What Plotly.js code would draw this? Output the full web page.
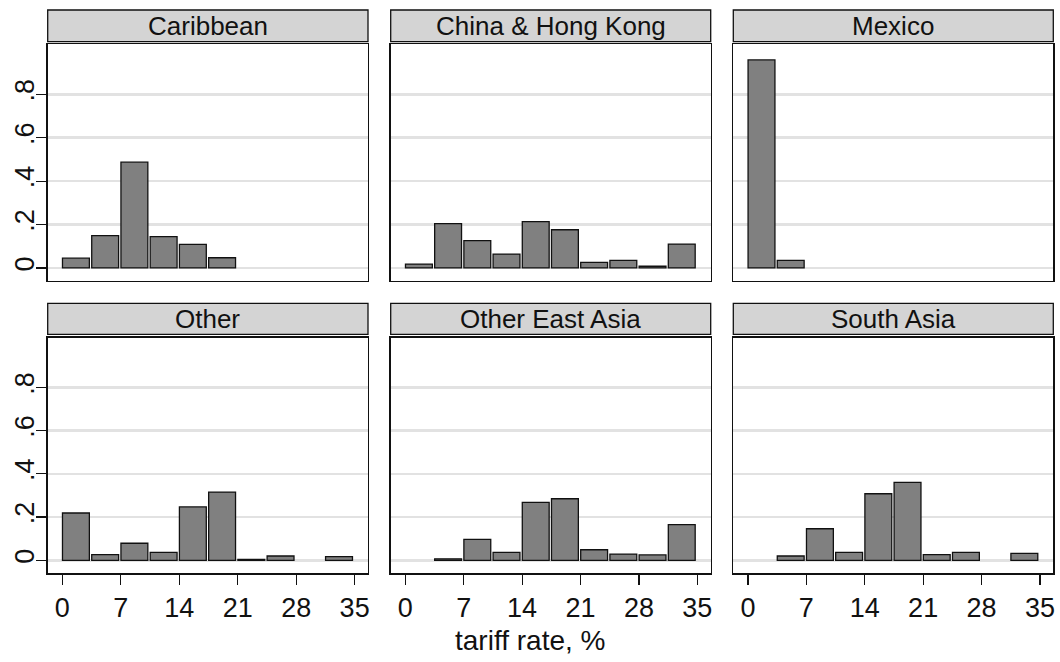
<!DOCTYPE html>
<html>
<head>
<meta charset="utf-8">
<script src="https://cdn.plot.ly/plotly-3.0.1.min.js"></script>
<style>html,body{margin:0;padding:0;background:#fff;}#chart{width:1060px;height:662px;}</style>
</head>
<body>
<div id="chart"></div>
<script>
// ---- data ----
const regions = ["Caribbean", "China & Hong Kong", "Mexico", "Other", "Other East Asia", "South Asia"];
const binLeft = [0, 3.5, 7, 10.5, 14, 17.5, 21, 24.5, 28, 31.5];
const caribbean     = [0.045, 0.149, 0.487, 0.144, 0.109, 0.047, 0, 0, 0, 0];
const chinaHongKong = [0.018, 0.204, 0.126, 0.064, 0.213, 0.176, 0.026, 0.035, 0.008, 0.110];
const mexico        = [0.958, 0.035, 0, 0, 0, 0, 0, 0, 0, 0];
const other         = [0.219, 0.026, 0.079, 0.037, 0.247, 0.316, 0.004, 0.020, 0, 0.017];
const otherEastAsia = [0, 0.007, 0.097, 0.037, 0.268, 0.285, 0.049, 0.029, 0.025, 0.165];
const southAsia     = [0, 0.020, 0.146, 0.037, 0.308, 0.361, 0.026, 0.037, 0, 0.032];
const xTickVals = [0, 7, 14, 21, 28, 35];
const xTickText = ["0", "7", "14", "21", "28", "35"];
const yTickVals = [0, 0.2, 0.4, 0.6, 0.8];
const yTickText = ["0", ".2", ".4", ".6", ".8"];
const xTitle = "tariff rate, %";

const series = [caribbean, chinaHongKong, mexico, other, otherEastAsia, southAsia];

// ---- layout geometry (pixels) ----
const W = 1060, H = 662;
const colPx = [[47.7, 368], [390.7, 710.7], [733.3, 1053.3]];
const rowPx = [[44.3, 281], [337.7, 573.3]];      // plot boxes (top, bottom)
const headPx = [[10, 41.7], [303.3, 334.3]];       // header strips
const FONT = "Liberation Sans, Arial, sans-serif";

const px2x = p => p / W;
const px2y = p => 1 - p / H;

const data = [];
const layout = {
  width: W, height: H,
  margin: {l: 0, r: 0, t: 0, b: 0},
  paper_bgcolor: "#fff", plot_bgcolor: "#fff",
  showlegend: false,
  bargap: 0,
  shapes: [], annotations: []
};

series.forEach((vals, i) => {
  const r = Math.floor(i / 3), c = i % 3;
  const n = i + 1;
  const xa = n === 1 ? "x" : "x" + n, ya = n === 1 ? "y" : "y" + n;
  data.push({
    type: "bar",
    x: binLeft, y: vals.map(v => (v === 0 ? null : v)),  // empty bins are not drawn
    offset: 0.02, width: 3.22,
    xaxis: xa, yaxis: ya,
    marker: {color: "#808080", line: {color: "#111", width: 1.3}},
    hoverinfo: "x+y"
  });
  const xk = n === 1 ? "xaxis" : "xaxis" + n, yk = n === 1 ? "yaxis" : "yaxis" + n;
  layout[xk] = {
    domain: [px2x(colPx[c][0]), px2x(colPx[c][1])],
    anchor: ya,
    range: [-1.75, 36.6],
    showline: true, mirror: true, linecolor: "#111", linewidth: 1.3,
    showgrid: false, zeroline: false,
    tickmode: "array", tickvals: xTickVals, ticktext: xTickText,
    ticks: r === 1 ? "outside" : "", ticklen: 10, tickwidth: 1.2, tickcolor: "#111",
    showticklabels: r === 1,
    tickfont: {family: FONT, size: 27, color: "#111"}
  };
  layout[yk] = {
    domain: [px2y(rowPx[r][1]), px2y(rowPx[r][0])],
    anchor: xa,
    range: [-0.06, 1.03],
    showline: true, mirror: true, linecolor: "#111", linewidth: 1.3,
    showgrid: true, gridcolor: "#e2e2e2", gridwidth: 2.5, zeroline: false,
    tickmode: "array", tickvals: yTickVals, ticktext: yTickText,
    ticks: c === 0 ? "outside" : "", ticklen: 10, tickwidth: 1.2, tickcolor: "#111",
    showticklabels: c === 0, tickangle: -90, ticklabelstandoff: -8,
    tickfont: {family: FONT, size: 27, color: "#111"}
  };
  // header strip
  layout.shapes.push({
    type: "rect", xref: "paper", yref: "paper",
    x0: px2x(colPx[c][0]), x1: px2x(colPx[c][1]),
    y0: px2y(headPx[r][1]), y1: px2y(headPx[r][0]),
    fillcolor: "#d4d4d4", line: {color: "#111", width: 1.3}, layer: "above"
  });
  layout.annotations.push({
    xref: "paper", yref: "paper",
    x: px2x((colPx[c][0] + colPx[c][1]) / 2),
    y: px2y((headPx[r][0] + headPx[r][1]) / 2),
    xanchor: "center", yanchor: "middle",
    text: regions[i], showarrow: false,
    font: {family: FONT, size: 26, color: "#111"}
  });
});

layout.annotations.push({
  xref: "paper", yref: "paper",
  x: 0.5, y: px2y(640), xanchor: "center", yanchor: "middle",
  text: xTitle, showarrow: false,
  font: {family: FONT, size: 28, color: "#111"}
});

Plotly.newPlot("chart", data, layout, {displayModeBar: false, staticPlot: true});
</script>
</body>
</html>
